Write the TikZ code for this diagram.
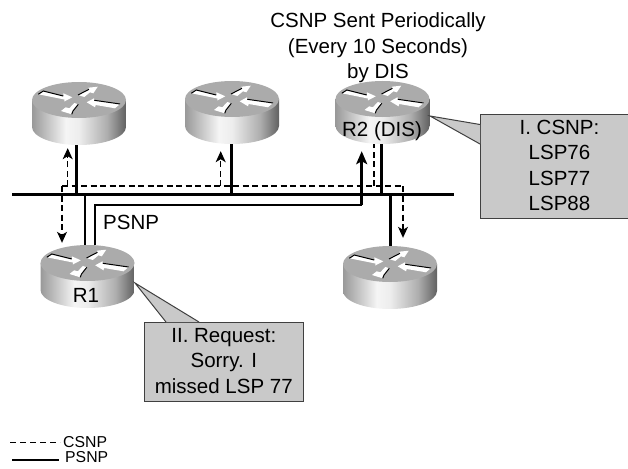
\documentclass[tikz,border=0pt]{standalone}
\usepackage{fontspec}
\setmainfont{Liberation Sans}
\usetikzlibrary{arrows.meta}
\definecolor{routertop}{HTML}{ABABAB}
\definecolor{boxgray}{HTML}{C9C9C9}
\pgfdeclarehorizontalshading{routerbody}{100bp}{
	rgb(0bp)=(0.60,0.60,0.60); rgb(25bp)=(0.60,0.60,0.60); rgb(43bp)=(0.96,0.96,0.96);
	rgb(50bp)=(0.93,0.93,0.93); rgb(65bp)=(0.68,0.68,0.68); rgb(75bp)=(0.38,0.38,0.38); rgb(100bp)=(0.38,0.38,0.38)}
\tikzset{
	routernode/.style={minimum width=94pt, minimum height=63pt, inner sep=0pt},
	psnpline/.style={line width=2.9pt},
	csnpline/.style={line width=1.1pt, dash pattern=on 6pt off 3.5pt},
	csnptip/.style={-{Stealth[length=11pt, width=10pt, inset=3pt]}},
	psnptip/.style={-{Stealth[length=13pt, width=11pt, inset=3pt]}},
	calloutbox/.style={draw=black!75, line width=1pt, fill=boxgray, inner sep=0pt},
	labeltext/.style={font=\fontsize{20.5}{25.3}\selectfont, align=center, inner sep=0pt},
	legendtext/.style={font=\fontsize{15.8}{18}\selectfont, anchor=base west, inner sep=0pt},
}
\def\router(#1)(#2,#3){
	\begin{scope}[shift={(#2,#3)}]
		\node[routernode] (#1) at (0,13.5) {};
		\shade[shading=routerbody] (-47,0) -- (-47,27) arc[start angle=180, end angle=0, x radius=47, y radius=18] -- (47,0) -- cycle;
		\fill[routertop] (0,0) ellipse [x radius=47, y radius=18];
		\fill[white] (-40.7,-5.7) -- (-35.7,-9) -- (-15.7,-4) -- (-15.7,-6.7) -- (-6.7,-2.7) -- (-14.7,1.5) -- (-14.7,-0.5) -- cycle;
		\draw[line width=1pt] (-40.7,-5.7) -- (-35.7,-9) -- (-15.7,-4);
		\fill[white] (-1,-5) -- (10,-10.7) -- (9.3,-12.3) -- (18.7,-13.3) -- (14.3,-6.7) -- (11,-7.7) -- (5.3,-3) -- cycle;
		\draw[line width=1pt] (-1,-5) -- (10,-10.7);
		\fill[white] (-0.7,4.3) -- (-4.7,3) -- (-9.7,8.3) -- (-13.3,7.3) -- (-18,11) -- (-7.3,14.3) -- (-6,11) -- cycle;
		\draw[line width=1pt] (-0.7,4.3) -- (-6,11) -- (-7.3,14.3);
		\fill[white] (7.7,2.3) -- (15,-1.7) -- (15.3,0.3) -- (41,4) -- (36,8.3) -- (16.7,5) -- (16,7.3) -- cycle;
		\draw[line width=1pt] (15.3,0.3) -- (41,4);
	\end{scope}
}

\begin{document}
\begin{tikzpicture}[x=1pt, y=-1pt]
	\useasboundingbox (0,0) rectangle (628,468);
	
	% title
	\node[labeltext] (titleText) at (378,48) {CSNP Sent Periodically\\(Every 10 Seconds)\\by DIS};
	
	% bus
	\coordinate (busLeft) at (12,194.7);
	\coordinate (busRight) at (454,194.7);
	\coordinate (tapA) at (76.7,194.7);
	\coordinate (tapB) at (231.5,194.7);
	\coordinate (tapR2) at (381.7,194.7);
	\coordinate (tapR1) at (85,194.7);
	\coordinate (tapE) at (390.7,194.7);
	\coordinate (psnpStart) at (95,205);
	\coordinate (psnpEnd) at (361.7,205);
	\coordinate (csnpLeft) at (62,186);
	\coordinate (csnpRight) at (403,186);
	\coordinate (csnpA) at (67.7,186);
	\coordinate (csnpB) at (220.7,186);
	\coordinate (csnpR2) at (374,186);
	
	\router(routerA)(79,100)
	\router(routerB)(232,99)
	\router(routerR2)(382.5,99)
	\router(routerR1)(87.5,263)
	\router(routerE)(390,264)
	
	% PSNP
	\draw[psnpline] (busLeft) -- (busRight);
	\draw[psnpline] (tapA) -- (tapA |- routerA.south);
	\draw[psnpline] (tapB) -- (tapB |- routerB.south);
	\draw[psnpline] (tapR2) -- (tapR2 |- routerR2.south);
	\draw[psnpline] (tapR1) -- (tapR1 |- routerR1.north);
	\draw[psnpline] (tapE) -- (tapE |- routerE.north);
	\draw[psnpline] (psnpStart |- routerR1.north) -- (psnpStart) -- (psnpEnd);
	\draw[psnpline, psnptip, shorten >=7pt] (psnpEnd) -- (psnpEnd |- routerR2.south);
	
	% CSNP
	\draw[csnpline] (csnpLeft) -- (csnpRight);
	\draw[csnpline, csnptip, shorten >=2pt] (csnpLeft) -- (csnpLeft |- routerR1.north);
	\draw[csnpline, csnptip, shorten >=8pt] (csnpRight) -- (csnpRight |- routerE.north);
	\draw[csnpline, csnptip, shorten >=3pt] (csnpA) -- (csnpA |- routerA.south);
	\draw[csnpline, csnptip, shorten >=7pt] (csnpB) -- (csnpB |- routerB.south);
	\draw[csnpline] (csnpR2) -- (csnpR2 |- routerR2.south);
	
	\node[font=\fontsize{20.5}{25.3}\selectfont, anchor=base west, inner sep=0pt] (psnpLabel) at (103,229) {PSNP};
	\node[font=\fontsize{20.5}{25.3}\selectfont, anchor=base, inner sep=0pt] (r2Label) at (382,136) {R2 (DIS)};
	\node[font=\fontsize{20.5}{25.3}\selectfont, anchor=base, inner sep=0pt] (r1Label) at (86,302) {R1};
	
	% callouts
	\node[calloutbox, minimum width=148pt, minimum height=104pt] (boxCsnp) at (554,166) {};
	\coordinate (tipCsnp) at (430,116);
	\fill[boxgray] (tipCsnp) -- (480,124.5) -- (480,144) -- cycle;
	\draw[line width=1pt, color=black!75] (480,124.5) -- (tipCsnp) -- (480,144);
	\node[labeltext] (textCsnp) at (559.5,165.5) {I. CSNP:\\LSP76\\LSP77\\LSP88};
	
	\node[calloutbox, minimum width=159pt, minimum height=79pt] (boxRequest) at (223.5,361.5) {};
	\coordinate (tipRequest) at (135,283);
	\fill[boxgray] (tipRequest) -- (166,322) -- (199,322) -- cycle;
	\draw[line width=1pt, color=black!75] (166,322) -- (tipRequest) -- (199,322);
	\node[labeltext] (textRequest) at (223.8,361) {II. Request:\\Sorry. I\\missed LSP 77};
	
	% legend
	\coordinate (legendA) at (10,442.5);
	\coordinate (legendB) at (60,442.5);
	\coordinate (legendC) at (12,460);
	\coordinate (legendD) at (59,460);
	\draw[line width=1pt, dash pattern=on 6pt off 4pt] (legendA) -- (legendB);
	\draw[psnpline] (legendC) -- (legendD);
	\node[legendtext] (legendCsnp) at (63,447) {CSNP};
	\node[legendtext] (legendPsnp) at (65,462) {PSNP};
\end{tikzpicture}
\end{document}
